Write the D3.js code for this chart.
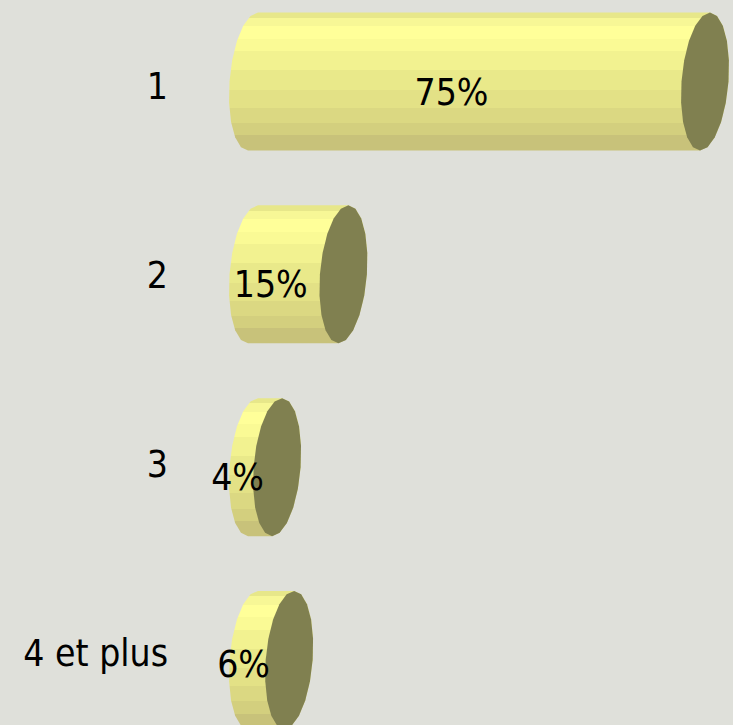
<!DOCTYPE html>
<html>
<head>
<meta charset="utf-8">
<script src="https://cdn.jsdelivr.net/npm/d3@7"></script>
<style>
  html, body { margin: 0; padding: 0; background: #dfe0da; }
  svg { display: block; }
  text { font-family: "DejaVu Sans Condensed", "DejaVu Sans", sans-serif; }
</style>
</head>
<body>
<script>
// Chart data
const categories = ["1", "2", "3", "4 et plus"];
const shares = [75, 15, 4, 6];
const valueLabels = ["75%", "15%", "4%", "6%"];

const W = 733, H = 725;

// Cylinder shading: vertical facet bands from top to bottom
const bandStops = [0, 0.038, 0.10, 0.19, 0.28, 0.42, 0.56, 0.69, 0.80, 0.89, 1];
const bandColors = ["#e7e78a", "#f7f796", "#ffff99", "#fafa95", "#f2f290",
                    "#e9e98a", "#e3e186", "#dbd882", "#d3cf7e", "#c8c27a"];
const capColor = "#808050";

const svg = d3.select("body").append("svg")
  .attr("width", W).attr("height", H);

svg.append("rect").attr("width", W).attr("height", H).attr("fill", "#dfe0da");

const defs = svg.append("defs");
const grad = defs.append("linearGradient")
  .attr("id", "cyl").attr("x1", 0).attr("y1", 0).attr("x2", 0).attr("y2", 1);
bandColors.forEach((c, i) => {
  grad.append("stop").attr("offset", bandStops[i]).attr("stop-color", c);
  grad.append("stop").attr("offset", bandStops[i + 1]).attr("stop-color", c);
});

// Scales
const x = d3.scaleLinear().domain([0, 75]).range([253, 705]);
const y = d3.scaleBand().domain(categories).range([12.5, 729]).paddingInner(0.284).paddingOuter(0);
const yLabel = d3.scalePoint().domain(categories).range([87, 654]);

const rx = 23.5;      // horizontal radius of the end ellipses
const skew = 5;       // slight lean of the end ellipses
const facets = 20;    // polygonal facets on each ellipse

function ellipsePoint(cx, cy, ry, t) {
  return [cx + rx * Math.cos(t) - skew * Math.sin(t), cy + ry * Math.sin(t)];
}

function bodyPath(x0, x1, cy, ry) {
  const p = d3.path();
  const top = ellipsePoint(x0, cy, ry, -Math.PI / 2);
  p.moveTo(top[0], top[1]);
  const ft = ellipsePoint(x1, cy, ry, -Math.PI / 2);
  p.lineTo(ft[0], ft[1]);
  // right side of the body (hidden under the cap)
  for (let i = 1; i <= facets / 2; i++) {
    const t = -Math.PI / 2 + i * Math.PI / (facets / 2);
    const q = ellipsePoint(x1, cy, ry, t);
    p.lineTo(q[0], q[1]);
  }
  const bb = ellipsePoint(x0, cy, ry, Math.PI / 2);
  p.lineTo(bb[0], bb[1]);
  // back half of the far ellipse
  for (let i = 1; i <= facets / 2; i++) {
    const t = Math.PI / 2 + i * Math.PI / (facets / 2);
    const q = ellipsePoint(x0, cy, ry, t);
    p.lineTo(q[0], q[1]);
  }
  p.closePath();
  return p.toString();
}

function capPath(cx, cy, ry) {
  const pts = d3.range(facets).map(i => ellipsePoint(cx, cy, ry, -Math.PI / 2 + i * 2 * Math.PI / facets));
  return "M" + pts.map(q => q.join(",")).join("L") + "Z";
}

const rows = categories.map((c, i) => ({ cat: c, v: shares[i], label: valueLabels[i] }));

const g = svg.append("g");
const bar = g.selectAll("g.bar").data(rows).join("g").attr("class", "bar");

bar.append("path")
  .attr("d", d => bodyPath(x(0), x(d.v), y(d.cat) + y.bandwidth() / 2, y.bandwidth() / 2))
  .attr("fill", "url(#cyl)");

bar.append("path")
  .attr("d", d => capPath(x(d.v), y(d.cat) + y.bandwidth() / 2, y.bandwidth() / 2))
  .attr("fill", capColor);

bar.append("text")
  .attr("x", d => Math.max((x(0) + x(d.v)) / 2 - rx - 4, 236))
  .attr("y", d => Math.min(y(d.cat) + y.bandwidth() / 2 + 23, H - 48))
  .attr("text-anchor", "middle")
  .attr("font-size", 37)
  .attr("fill", "#000")
  .text(d => d.label);

// Category axis
const axis = d3.axisLeft(yLabel).tickSize(0).tickPadding(0);
const ax = svg.append("g").attr("transform", "translate(168,0)").call(axis);
ax.select(".domain").remove();
ax.selectAll("text")
  .attr("font-size", 37)
  .attr("font-family", "'DejaVu Sans Condensed', 'DejaVu Sans', sans-serif")
  .attr("fill", "#000");
</script>
</body>
</html>
